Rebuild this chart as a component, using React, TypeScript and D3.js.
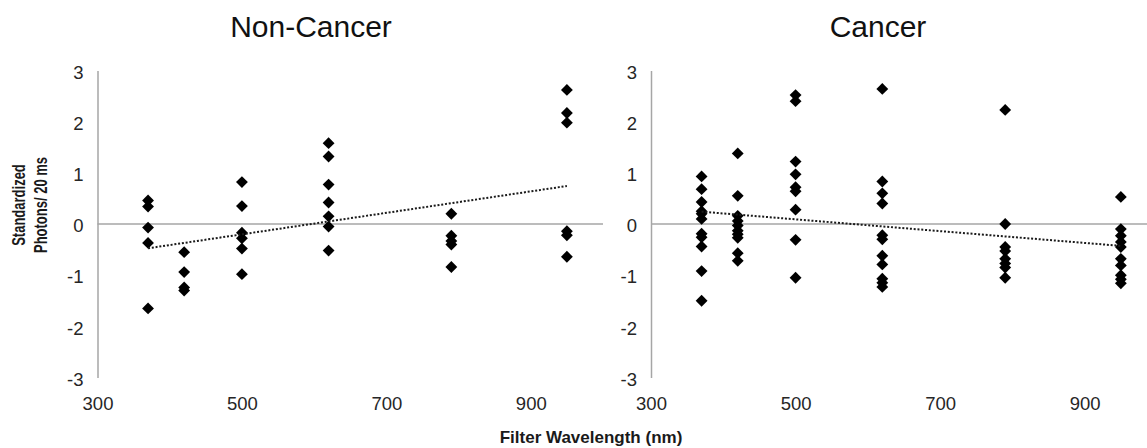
// App.tsx
import React, { useRef, useEffect } from "react";
import * as d3 from "d3";

// filter wavelengths (nm) used for each column of points
const wavelengths = [370, 420, 500, 620, 790, 950];

// standardized photons / 20 ms, one list per wavelength
const nonCancerValues = [
  [0.46, 0.34, -0.07, -0.37, -1.65],
  [-0.55, -0.94, -1.24, -1.3],
  [0.82, 0.35, -0.17, -0.28, -0.48, -0.98],
  [1.58, 1.32, 0.77, 0.42, 0.15, -0.05, -0.52],
  [0.2, -0.23, -0.33, -0.4, -0.84],
  [2.62, 2.17, 1.98, -0.14, -0.22, -0.64],
];

const cancerValues = [
  [0.93, 0.68, 0.43, 0.25, 0.2, 0.1, -0.19, -0.26, -0.44, -0.92, -1.5],
  [1.38, 0.55, 0.16, 0.06, -0.03, -0.13, -0.2, -0.27, -0.57, -0.72],
  [2.52, 2.4, 1.22, 0.97, 0.72, 0.64, 0.28, -0.31, -1.05],
  [2.64, 0.83, 0.6, 0.4, -0.22, -0.3, -0.62, -0.79, -1.07, -1.15, -1.23],
  [2.23, 0, -0.45, -0.53, -0.68, -0.77, -0.85, -1.05],
  [0.53, -0.1, -0.23, -0.35, -0.45, -0.68, -0.81, -1.0, -1.08, -1.16],
];

const xTicks = [300, 500, 700, 900];
const yTicks = [-3, -2, -1, 0, 1, 2, 3];
const titles = ["Non-Cancer", "Cancer"];

const W = 1147;
const H = 448;
const FONT = "'Liberation Sans', Arial, sans-serif";

// panel placement
const layout = [
  { left: 97.5, right: 603, titleX: 311 },
  { left: 651, right: 1157, titleX: 878 },
];
const plotTop = 70.5;
const plotBottom = 377.5;

const App = () => {
  const ref = useRef<SVGSVGElement>(null);

  useEffect(() => {
    const svg = d3.select(ref.current);
    svg.selectAll("*").remove();

    [nonCancerValues, cancerValues].forEach((values, pi) => {
      const { left, right, titleX } = layout[pi];
      const g = svg.append("g");

      const x = d3.scaleLinear().domain([300, 1000]).range([left, right]);
      const y = d3.scaleLinear().domain([-3, 3]).range([plotBottom, plotTop]);

      // title
      g.append("text")
        .attr("x", titleX)
        .attr("y", 37)
        .attr("text-anchor", "middle")
        .style("font-family", FONT)
        .style("font-size", "30px")
        .attr("fill", "#111")
        .text(titles[pi]);

      // y axis (vertical gray line + labels)
      const yAxis = d3
        .axisLeft(y)
        .tickValues(yTicks)
        .tickFormat((d) => String(d))
        .tickSize(0)
        .tickPadding(14);
      const yg = g.append("g").attr("transform", `translate(${left},0)`).call(yAxis);
      yg.select(".domain").attr("stroke", "#a6a6a6").attr("stroke-width", 1.5);
      yg.selectAll("text")
        .style("font-family", FONT)
        .style("font-size", "18.5px")
        .attr("fill", "#262626")
        .attr("dy", "0.42em");

      // x axis labels only
      const xAxis = d3
        .axisBottom(x)
        .tickValues(xTicks)
        .tickFormat((d) => String(d))
        .tickSize(0)
        .tickPadding(19);
      const xg = g.append("g").attr("transform", `translate(0,${plotBottom})`).call(xAxis);
      xg.select(".domain").remove();
      xg.selectAll("text")
        .style("font-family", FONT)
        .style("font-size", "18.5px")
        .attr("fill", "#262626");

      // zero line
      g.append("line")
        .attr("x1", x(300))
        .attr("x2", x(1000))
        .attr("y1", y(0))
        .attr("y2", y(0))
        .attr("stroke", "#a6a6a6")
        .attr("stroke-width", 1.5);

      const points = wavelengths.flatMap((w, i) => values[i].map((v) => ({ w, v })));

      // diamonds
      const diamond = d3.symbol(d3.symbolSquare, 70);
      g.append("g")
        .selectAll("path")
        .data(points)
        .join("path")
        .attr("d", diamond)
        .attr("transform", (d) => `translate(${x(d.w)},${y(d.v)}) rotate(45)`)
        .attr("fill", "#000");

      // linear trendline (least squares)
      const mx = d3.mean(points, (d) => d.w) as number;
      const my = d3.mean(points, (d) => d.v) as number;
      const sxy = d3.sum(points, (d) => (d.w - mx) * (d.v - my));
      const sxx = d3.sum(points, (d) => (d.w - mx) ** 2);
      const slope = sxy / sxx;
      const icpt = my - slope * mx;
      const [wMin, wMax] = d3.extent(wavelengths) as [number, number];
      const trend = [wMin, wMax].map((w) => ({ w, v: icpt + slope * w }));

      g.append("path")
        .datum(trend)
        .attr("fill", "none")
        .attr("stroke", "#1a1a1a")
        .attr("stroke-width", 2)
        .attr("stroke-dasharray", "2 1.8")
        .attr(
          "d",
          d3
            .line<{ w: number; v: number }>()
            .x((d) => x(d.w))
            .y((d) => y(d.v))
        );
    });

    // y axis title (two lines, rotated)
    const yTitle = [
      { text: "Standardized", x: 25 },
      { text: "Photons/ 20 ms", x: 46.5 },
    ];
    svg
      .selectAll("text.ytitle")
      .data(yTitle)
      .join("text")
      .attr("class", "ytitle")
      .attr("transform", (d) => `translate(${d.x},205) rotate(-90) scale(1,1.45)`)
      .attr("text-anchor", "middle")
      .style("font-family", FONT)
      .style("font-size", "13px")
      .style("font-weight", "bold")
      .attr("fill", "#1a1a1a")
      .text((d) => d.text);

    // x axis title
    svg
      .append("text")
      .attr("x", 591)
      .attr("y", 443)
      .attr("text-anchor", "middle")
      .style("font-family", FONT)
      .style("font-size", "17px")
      .style("font-weight", "bold")
      .attr("fill", "#1a1a1a")
      .text("Filter Wavelength (nm)");
  }, []);

  return (
    <div style={{ position: "absolute", top: 0, left: 0 }}>
      <svg ref={ref} width={W} height={H} style={{ display: "block", background: "#fff" }} />
    </div>
  );
};

export default App;
